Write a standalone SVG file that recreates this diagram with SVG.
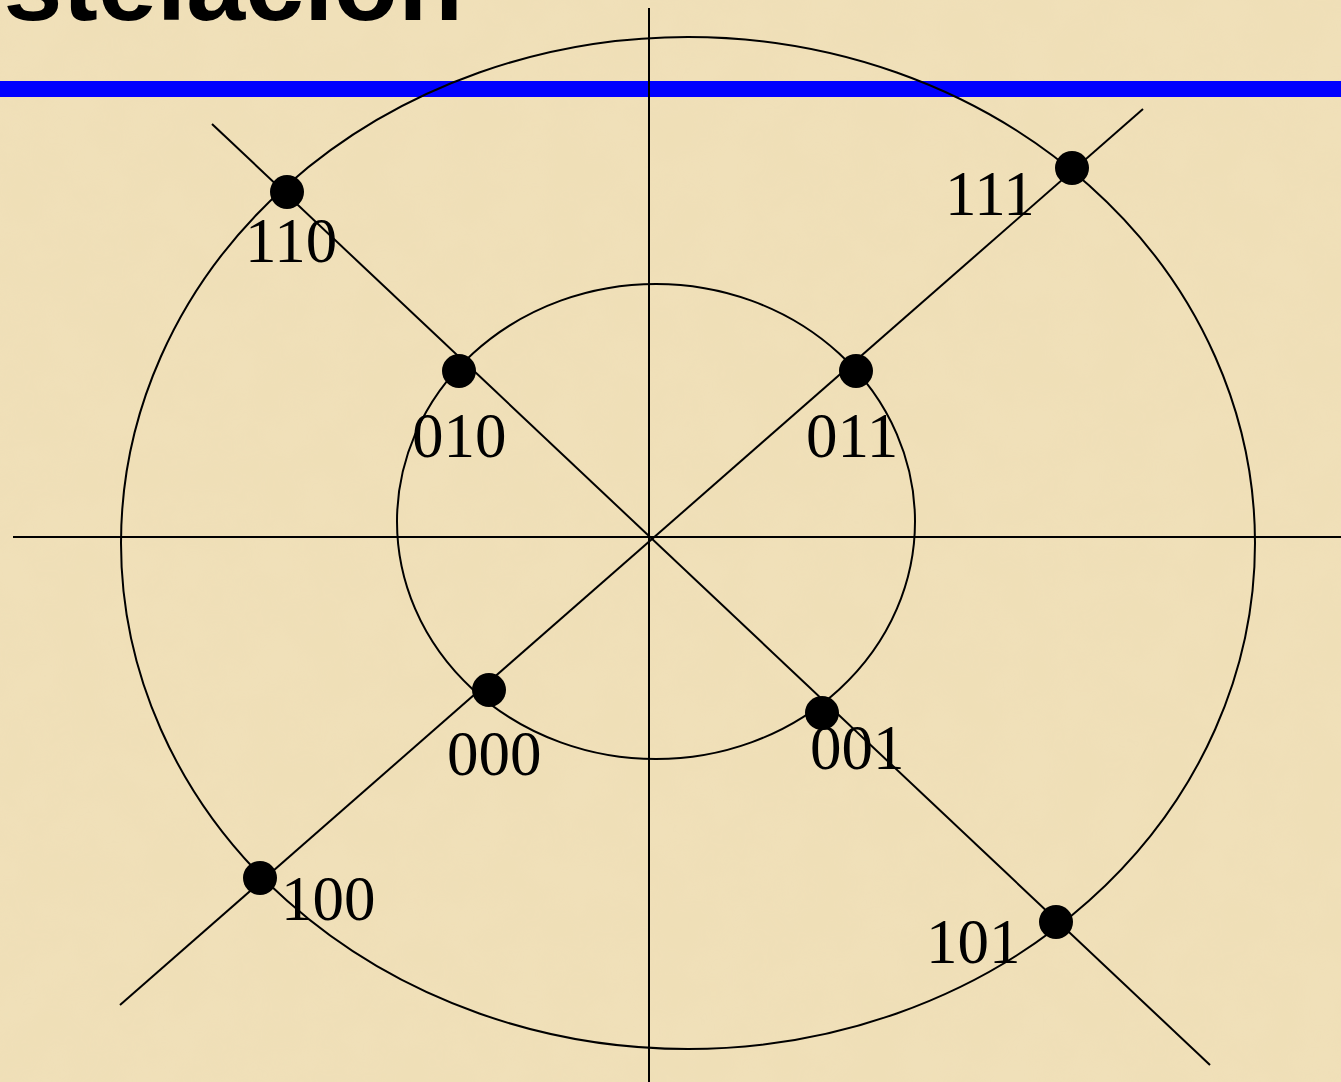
<svg xmlns="http://www.w3.org/2000/svg" width="1341" height="1082" viewBox="0 0 1341 1082">
<defs>
<filter id="tex" x="0" y="0" width="100%" height="100%">
<feTurbulence type="fractalNoise" baseFrequency="0.02" numOctaves="3" seed="4" result="n"/>
<feColorMatrix in="n" type="matrix" values="0 0 0 0 0.85  0 0 0 0 0.72  0 0 0 0 0.45  0 0 0 0.55 -0.1" result="c"/>
<feComposite in="c" in2="SourceGraphic" operator="in"/>
</filter>
<style>
.ln{stroke:#000;stroke-width:2;fill:none}
.dot{fill:#000}
.lbl{font-family:"Liberation Serif","Times New Roman",serif;font-size:63px;fill:#000}
</style>
</defs>
<rect width="1341" height="1082" fill="#F0E0B9"/>
<rect width="1341" height="1082" fill="#F0E0B9" filter="url(#tex)"/>
<text x="463" y="20" text-anchor="end" font-family="Liberation Sans, Arial, sans-serif" font-weight="bold" font-size="106" fill="#000">Constelación</text>
<rect x="0" y="81" width="1341" height="16" fill="#0000FF"/>
<g id="connectors">
<line class="ln" x1="13" y1="537" x2="1341" y2="537"/>
<line class="ln" x1="649" y1="8" x2="649" y2="1082"/>
<line class="ln" x1="212" y1="124" x2="1210" y2="1065"/>
<line class="ln" x1="1143" y1="109" x2="120" y2="1005"/>
<ellipse class="ln" cx="688" cy="543" rx="567" ry="506"/>
<ellipse class="ln" cx="656" cy="521.5" rx="259" ry="237.5"/>
</g>
<g id="n110"><circle class="dot" cx="287" cy="192" r="17"/><text class="lbl" x="245" y="262">110</text></g>
<g id="n010"><circle class="dot" cx="459" cy="371" r="17"/><text class="lbl" x="412" y="457">010</text></g>
<g id="n011"><circle class="dot" cx="856" cy="371" r="17"/><text class="lbl" x="806" y="457">011</text></g>
<g id="n111"><circle class="dot" cx="1072" cy="168" r="17"/><text class="lbl" x="945" y="215">111</text></g>
<g id="n000"><circle class="dot" cx="489" cy="690" r="17"/><text class="lbl" x="447" y="775">000</text></g>
<g id="n001"><circle class="dot" cx="822" cy="713" r="17"/><text class="lbl" x="810" y="769">001</text></g>
<g id="n100"><circle class="dot" cx="260" cy="878" r="17"/><text class="lbl" x="281" y="920">100</text></g>
<g id="n101"><circle class="dot" cx="1056" cy="922" r="17"/><text class="lbl" x="926" y="963">101</text></g>
</svg>
